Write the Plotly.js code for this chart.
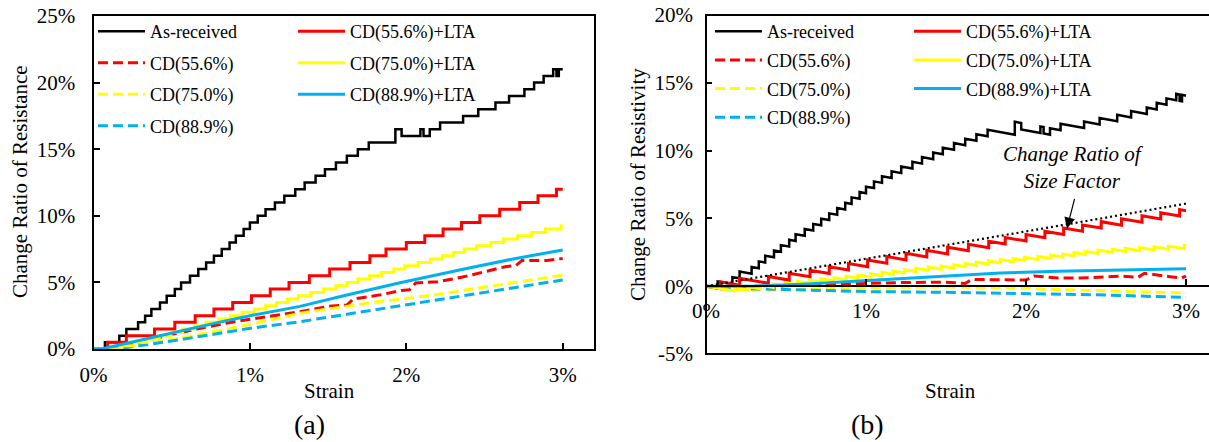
<!DOCTYPE html>
<html><head><meta charset="utf-8">
<script src="https://cdn.plot.ly/plotly-3.0.1.min.js"></script>
<style>html,body{margin:0;padding:0;overflow:hidden;background:#fff}#chart{width:1225px;height:442px}</style>
</head><body><div id="chart"></div><script>
// ---------- DATA (strain in %, change ratio in %) ----------
const names = ['As-received','CD(55.6%)','CD(75.0%)','CD(88.9%)','CD(55.6%)+LTA','CD(75.0%)+LTA','CD(88.9%)+LTA'];
const xTickVals = [0,1,2,3];
const xTickText = ['0%','1%','2%','3%'];
const yTickValsA = [0,5,10,15,20,25];
const yTickTextA = ['0%','5%','10%','15%','20%','25%'];
const yTickValsB = [-5,0,5,10,15,20];
const yTickTextB = ['-5%','0%','5%','10%','15%','20%'];

// (a) resistance, staircase series (level starts)
const resBlackX = [0,0.073,0.165,0.21,0.285,0.33,0.37,0.425,0.468,0.52,0.56,0.617,0.67,0.72,0.77,0.82,0.87,0.91,0.96,1.0,1.05,1.1,1.16,1.22,1.29,1.35,1.42,1.48,1.55,1.62,1.69,1.76,1.93,1.97,2.09,2.11,2.15,2.216,2.363,2.46,2.57,2.657,2.755,2.817,2.878,2.939,2.96,2.975,3.0];
const resBlackY = [0,0.5,1.0,1.5,2.0,2.5,3.0,3.5,4.0,4.5,5.0,5.5,6.0,6.5,7.0,7.5,8.0,8.5,9.0,9.5,10.0,10.5,11.0,11.5,12.0,12.5,13.0,13.5,14.0,14.5,15.0,15.5,16.5,16.0,16.5,16.0,16.5,17.0,17.5,18.0,18.5,19.0,19.5,20.0,20.5,21.0,20.5,21.0,21.0];
const resRedX = [0,0.09,0.21,0.39,0.52,0.65,0.77,0.89,1.01,1.13,1.25,1.38,1.51,1.64,1.767,1.87,2.0,2.118,2.235,2.353,2.47,2.597,2.725,2.842,2.96,3.0];
const resRedY = [0,0.5,1.0,1.5,2.0,2.5,3.0,3.5,4.0,4.5,5.0,5.5,6.0,6.5,7.0,7.5,8.0,8.5,9.0,9.5,10.0,10.5,11.0,11.5,12.0,12.0];
const resYellowX = [0,0.18,0.26,0.34,0.42,0.495,0.57,0.645,0.72,0.80,0.875,0.95,1.03,1.10,1.17,1.24,1.31,1.39,1.47,1.55,1.62,1.69,1.765,1.84,1.92,1.99,2.075,2.155,2.23,2.30,2.37,2.45,2.54,2.62,2.71,2.80,2.89,2.99,3.0];
const resYellowY = [0,0.25,0.5,0.75,1.0,1.25,1.5,1.75,2.0,2.25,2.5,2.75,3.0,3.25,3.5,3.75,4.0,4.25,4.5,4.75,5.0,5.25,5.5,5.75,6.0,6.25,6.5,6.75,7.0,7.25,7.5,7.75,8.0,8.25,8.5,8.75,9.0,9.25,9.25];
const resBlueX = [0,0.05,0.2,0.4,0.6,0.8,1.0,1.32,1.6,1.96,2.385,2.7,3.0];
const resBlueY = [0,0,0.4,0.95,1.5,2.0,2.5,3.2,4.0,4.97,6.05,6.8,7.43];
const resRedDX = [0,0.12,0.3,0.5,0.7,0.9,1.1,1.32,1.5,1.62,1.66,1.85,1.97,2.02,2.06,2.2,2.36,2.5,2.64,2.7,2.74,2.9,3.0];
const resRedDY = [0,0,0.5,1.1,1.6,2.05,2.4,2.8,3.2,3.3,3.75,4.1,4.4,4.45,4.95,5.05,5.4,5.8,6.2,6.25,6.65,6.65,6.8];
const resYellowDX = [0,0.15,0.5,1.0,1.32,1.746,2.17,2.597,3.0];
const resYellowDY = [0,0,0.7,1.85,2.68,3.43,4.05,4.8,5.55];
const resBlueDX = [0,0.15,0.5,1.0,1.32,2.0,2.5,3.0];
const resBlueDY = [0,0,0.6,1.55,2.05,3.35,4.25,5.18];

// (b) resistivity
const rhoBlackX = [0,0.073,0.073,0.165,0.165,0.21,0.21,0.285,0.285,0.33,0.33,0.37,0.37,0.425,0.425,0.468,0.468,0.52,0.52,0.56,0.56,0.617,0.617,0.67,0.67,0.72,0.72,0.77,0.77,0.82,0.82,0.87,0.87,0.91,0.91,0.96,0.96,1.0,1.0,1.05,1.05,1.1,1.1,1.16,1.16,1.22,1.22,1.29,1.29,1.35,1.35,1.42,1.42,1.48,1.48,1.55,1.55,1.62,1.62,1.69,1.69,1.76,1.76,1.93,1.93,1.97,1.97,2.09,2.09,2.11,2.11,2.15,2.15,2.216,2.216,2.363,2.363,2.46,2.46,2.57,2.57,2.657,2.657,2.755,2.755,2.817,2.817,2.878,2.878,2.939,2.939,2.96,2.96,2.975,2.975,3.0];
const rhoBlackY = [0,-0.15,0.35,0.17,0.67,0.58,1.08,0.92,1.42,1.33,1.83,1.75,2.24,2.13,2.63,2.54,3.03,2.93,3.42,3.34,3.83,3.72,4.21,4.10,4.59,4.49,4.98,4.88,5.37,5.27,5.76,5.65,6.15,6.06,6.55,6.45,6.94,6.85,7.34,7.24,7.73,7.62,8.11,7.98,8.47,8.34,8.83,8.68,9.17,9.04,9.52,9.37,9.86,9.73,10.21,10.06,10.55,10.39,10.88,10.73,11.21,11.06,11.54,11.17,12.13,12.04,11.56,11.30,11.78,11.74,11.26,11.17,11.65,11.50,11.98,11.66,12.14,11.93,12.40,12.16,12.64,12.45,12.92,12.70,13.18,13.04,13.52,13.38,13.85,13.72,14.19,14.14,13.67,13.64,14.11,14.05];
const rhoRedX = [0,0.09,0.09,0.21,0.21,0.39,0.39,0.52,0.52,0.65,0.65,0.77,0.77,0.89,0.89,1.01,1.01,1.13,1.13,1.25,1.25,1.38,1.38,1.51,1.51,1.64,1.64,1.767,1.767,1.87,1.87,2.0,2.0,2.118,2.118,2.235,2.235,2.353,2.353,2.47,2.47,2.597,2.597,2.725,2.725,2.842,2.842,2.96,2.96,3.0];
const rhoRedY = [0,-0.18,0.32,0.08,0.58,0.22,0.71,0.45,0.95,0.69,1.18,0.94,1.43,1.19,1.68,1.44,1.93,1.69,2.18,1.94,2.42,2.16,2.65,2.38,2.87,2.61,3.09,2.83,3.32,3.11,3.59,3.33,3.81,3.57,4.05,3.81,4.29,4.05,4.52,4.29,4.76,4.50,4.98,4.72,5.19,4.95,5.42,5.18,5.65,5.57];
const rhoYellowX = [0,0.18,0.18,0.26,0.26,0.34,0.34,0.42,0.42,0.495,0.495,0.57,0.57,0.645,0.645,0.72,0.72,0.80,0.80,0.875,0.875,0.95,0.95,1.03,1.03,1.10,1.10,1.17,1.17,1.24,1.24,1.31,1.31,1.39,1.39,1.47,1.47,1.55,1.55,1.62,1.62,1.69,1.69,1.765,1.765,1.84,1.84,1.92,1.92,1.99,1.99,2.075,2.075,2.155,2.155,2.23,2.23,2.30,2.30,2.37,2.37,2.45,2.45,2.54,2.54,2.62,2.62,2.71,2.71,2.80,2.80,2.89,2.89,2.99,2.99,3.0];
const rhoYellowY = [0,-0.36,-0.11,-0.27,-0.02,-0.18,0.07,-0.09,0.16,0.01,0.26,0.11,0.36,0.21,0.45,0.30,0.55,0.39,0.63,0.48,0.73,0.58,0.83,0.67,0.91,0.77,1.02,0.88,1.12,0.98,1.22,1.08,1.33,1.17,1.41,1.25,1.49,1.33,1.58,1.44,1.68,1.54,1.78,1.63,1.87,1.72,1.96,1.80,2.04,1.90,2.14,1.97,2.21,2.05,2.29,2.14,2.38,2.24,2.48,2.34,2.58,2.42,2.66,2.48,2.72,2.56,2.79,2.61,2.85,2.67,2.91,2.73,2.96,2.76,3.00,2.98];
const rhoBlueX = [0,0.3,0.6,0.9,1.2,1.5,1.84,2.2,2.6,3.0];
const rhoBlueY = [0,0.02,0.15,0.35,0.6,0.8,0.98,1.1,1.2,1.28];
const rhoRedDX = [0,0.15,0.4,0.7,1.0,1.21,1.5,1.62,1.66,1.84,2.0,2.05,2.2,2.4,2.6,2.7,2.74,2.9,2.97,3.0];
const rhoRedDY = [0,-0.1,0.0,0.1,0.2,0.27,0.3,0.2,0.5,0.45,0.45,0.75,0.6,0.62,0.75,0.65,0.95,0.7,0.6,0.75];
const rhoYellowDX = [0,0.15,0.5,1.0,1.5,1.84,2.2,2.6,3.0];
const rhoYellowDY = [0,-0.3,-0.25,-0.1,-0.05,-0.1,-0.25,-0.35,-0.5];
const rhoBlueDX = [0,0.15,0.5,1.0,1.5,2.0,2.5,3.0];
const rhoBlueDY = [0,-0.15,-0.25,-0.4,-0.45,-0.55,-0.65,-0.83];
const sizeFactorX = [0,0.5,1.0,1.5,2.0,2.5,3.0];
const sizeFactorY = [0,1.0,2.01,3.02,4.04,5.06,6.09];

// ---------- STYLE ----------
const W = 1225, H = 442;
const FONT = 'Liberation Serif';
const BLACK='#000000', RED='#FF0000', YEL='#FFFF00', BLUE='#00B0F0';
const DASH='10px,5px';
const px = v => v / W, py = v => 1 - v / H;

function tr(x, y, name, color, dash, width, xa, ya, legend, group, shape) {
  return {x, y, name, type:'scatter', mode:'lines', xaxis:xa, yaxis:ya,
    line:{color, width, dash: dash || 'solid', shape: shape || 'linear'},
    legend, legendgroup: group, showlegend: true, hoverinfo:'skip'};
}

const data = [
  tr(resBlackX,resBlackY,names[0],BLACK,null,2.5,'x','y','legend','a0','hv'),
  tr(resRedDX,resRedDY,names[1],RED,DASH,3,'x','y','legend','a1'),
  tr(resYellowDX,resYellowDY,names[2],YEL,DASH,3,'x','y','legend','a2'),
  tr(resBlueDX,resBlueDY,names[3],BLUE,DASH,3,'x','y','legend','a3'),
  tr(resRedX,resRedY,names[4],RED,null,3,'x','y','legend2','a4','hv'),
  tr(resYellowX,resYellowY,names[5],YEL,null,3,'x','y','legend2','a5','hv'),
  tr(resBlueX,resBlueY,names[6],BLUE,null,3,'x','y','legend2','a6'),

  tr(rhoBlackX,rhoBlackY,names[0],BLACK,null,2.5,'x2','y2','legend3','b0'),
  tr(rhoRedDX,rhoRedDY,names[1],RED,DASH,3,'x2','y2','legend3','b1'),
  tr(rhoYellowDX,rhoYellowDY,names[2],YEL,DASH,3,'x2','y2','legend3','b2'),
  tr(rhoBlueDX,rhoBlueDY,names[3],BLUE,DASH,3,'x2','y2','legend3','b3'),
  tr(rhoRedX,rhoRedY,names[4],RED,null,3,'x2','y2','legend4','b4'),
  tr(rhoYellowX,rhoYellowY,names[5],YEL,null,3,'x2','y2','legend4','b5'),
  tr(rhoBlueX,rhoBlueY,names[6],BLUE,null,3,'x2','y2','legend4','b6'),
  {x:sizeFactorX, y:sizeFactorY, type:'scatter', mode:'lines', xaxis:'x2', yaxis:'y2',
   line:{color:BLACK, width:2.2, dash:'2px,3px'}, showlegend:false, hoverinfo:'skip'}
];

const tickFont = {family:FONT, size:21, color:'#000'};
const legFont = {family:FONT, size:18, color:'#000'};
function leg(x, y, gap) {
  return {x:px(x), y:py(y), xanchor:'left', yanchor:'top', orientation:'v',
    bgcolor:'rgba(0,0,0,0)', borderwidth:0, font:legFont, traceorder:'grouped',
    tracegroupgap:gap, itemwidth:47, itemclick:false, itemdoubleclick:false};
}
function xax(dom, extra) {
  return Object.assign({domain:dom, range:[0,3.2], tickvals:xTickVals, ticktext:xTickText,
    ticks:'inside', ticklen:6, tickwidth:2, tickcolor:'#000', showgrid:false, zeroline:false,
    showline:true, linecolor:'#000', linewidth:2, tickfont:tickFont, ticklabelstandoff:6, fixedrange:true}, extra);
}
function yax(dom, range, vals, text, extra) {
  return Object.assign({domain:dom, range, tickvals:vals, ticktext:text,
    ticks:'inside', ticklen:6, tickwidth:2, tickcolor:'#000', showgrid:false, zeroline:false,
    linecolor:'#000', linewidth:2, tickfont:tickFont, ticklabelstandoff:12, fixedrange:true}, extra);
}
const yDomA = [py(349), py(16)];
const yDomB = [py(354), py(15)];
const zeroPos = yDomB[0] + (5/25)*(yDomB[1]-yDomB[0]);

const ann = (text, x, y, size, extra) => Object.assign({text, x:px(x), y:py(y), xref:'paper', yref:'paper',
  showarrow:false, xanchor:'center', yanchor:'middle', font:{family:FONT, size, color:'#000'}}, extra);

const layout = {
  width:W, height:H, margin:{l:0,r:0,t:0,b:0}, paper_bgcolor:'#fff', plot_bgcolor:'rgba(0,0,0,0)',
  font:{family:FONT, color:'#000'},
  showlegend:true,
  xaxis: xax([px(93.5), px(594)], {anchor:'y', mirror:true}),
  yaxis: yax(yDomA, [0,25], yTickValsA, yTickTextA, {anchor:'x', showline:true, mirror:true}),
  xaxis2: xax([px(706), px(1218)], {anchor:'free', position:zeroPos}),
  yaxis2: yax(yDomB, [-5,20], yTickValsB, yTickTextB, {anchor:'x2', showline:false}),
  legend: leg(93, 13, 5.1),
  legend2: leg(293, 13, 5.1),
  legend3: leg(710, 13, 2.3),
  legend4: leg(909, 13, 2.3),
  shapes: [{type:'rect', xref:'x2 domain', yref:'y2 domain', x0:0, x1:1, y0:0, y1:1,
            line:{color:'#000', width:2}, layer:'above'}],
  annotations: [
    ann('Strain', 329, 391, 21),
    ann('Strain', 950, 391, 21),
    ann('(a)', 309, 424, 28),
    ann('(b)', 868, 424, 28),
    ann('Change Ratio of Resistance', 20, 182, 21, {textangle:-90}),
    ann('Change Ratio of Resistivity', 638, 185, 21, {textangle:-90}),
    {text:'<i>Change Ratio of<br>Size Factor</i>', x:2.294, y:8.75, xref:'x2', yref:'y2', showarrow:false,
     xanchor:'center', yanchor:'middle', font:{family:FONT, size:21, color:'#000'}},
    {text:'', x:2.256, y:4.26, xref:'x2', yref:'y2', showarrow:true, ax:8, ay:-31,
     arrowhead:2, arrowsize:1.8, arrowwidth:1.2, arrowcolor:'#000'}
  ]
};

Plotly.newPlot('chart', data, layout, {staticPlot:true, displayModeBar:false});
</script></body></html>
